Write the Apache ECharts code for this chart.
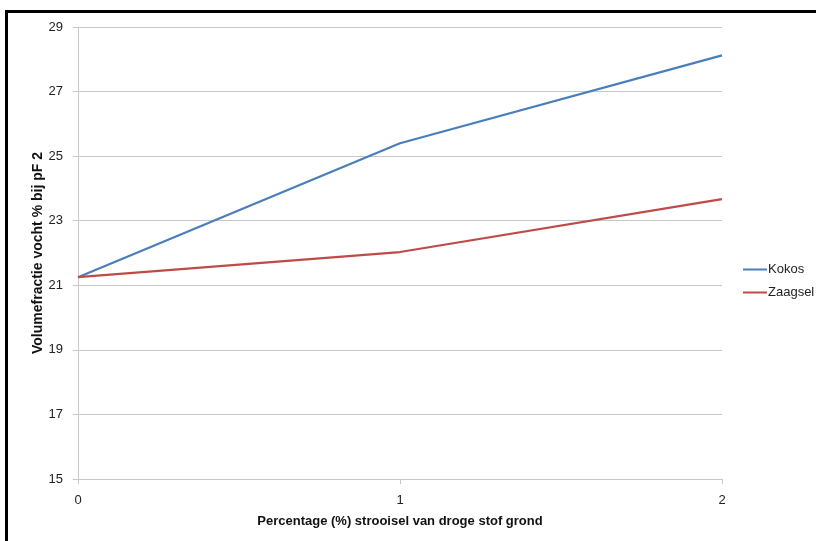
<!DOCTYPE html>
<html>
<head>
<meta charset="utf-8">
<script src="https://cdn.jsdelivr.net/npm/echarts@6/dist/echarts.min.js"></script>
<style>
  html, body { margin: 0; padding: 0; background: #fff; }
  #frame { position: absolute; left: 5px; top: 10px; width: 840px; height: 560px; border: 3px solid #000; box-sizing: border-box; }
  #chart { position: absolute; left: 0; top: 0; width: 816px; height: 541px; }
</style>
</head>
<body>
<div id="frame"></div>
<div id="chart"></div>
<script>
// Percentage of litter added (x categories)
const categories = ['0', '1', '2'];
// Volume fraction of moisture at pF 2
const kokos = [21.25, 25.4, 28.12];
const zaagsel = [21.25, 22.03, 23.67];
const yTicks = { min: 15, max: 29, interval: 2 };

const font = '"Liberation Sans", Arial, sans-serif';
const linePath = 'path://M0,4 L24,4 L24,6 L0,6 Z';
const chart = echarts.init(document.getElementById('chart'));
chart.setOption({
  animation: false,
  grid: { left: 78, right: 94, top: 27, bottom: 62 },
  legend: {
    orient: 'vertical',
    left: 738,
    top: 258,
    itemGap: 10,
    itemWidth: 24,
    itemHeight: 10,
    textStyle: { fontFamily: font, fontSize: 13, color: '#222', padding: [0, 0, 0, -4] },
    data: [
      { name: 'Kokos', icon: linePath },
      { name: 'Zaagsel', icon: linePath }
    ]
  },
  xAxis: {
    type: 'category',
    data: categories,
    boundaryGap: false,
    name: 'Percentage (%) strooisel van droge stof grond',
    nameLocation: 'middle',
    nameGap: 36,
    nameTextStyle: { fontFamily: font, fontSize: 13, fontWeight: 'bold', color: '#111' },
    axisLine: { lineStyle: { color: '#c8c8c8' } },
    axisTick: { show: true, length: 5, lineStyle: { color: '#c8c8c8' } },
    axisLabel: { fontFamily: font, fontSize: 13, color: '#222', margin: 15 },
    splitLine: { show: false }
  },
  yAxis: {
    type: 'value',
    min: yTicks.min,
    max: yTicks.max,
    interval: yTicks.interval,
    name: 'Volumefractie vocht % bij pF 2',
    nameLocation: 'middle',
    nameGap: 33,
    nameMoveOverlap: false,
    nameRotate: 90,
    nameTextStyle: { fontFamily: font, fontSize: 14, fontWeight: 'bold', color: '#111' },
    axisLine: { show: true, lineStyle: { color: '#c8c8c8' } },
    axisTick: { show: true, length: 5, lineStyle: { color: '#c8c8c8' } },
    axisLabel: { fontFamily: font, fontSize: 13, color: '#222', margin: 15 },
    splitLine: { lineStyle: { color: '#c8c8c8', width: 1 } }
  },
  series: [
    { name: 'Kokos', type: 'line', data: kokos, symbol: 'none', color: '#4a7ebb', lineStyle: { width: 2.2, color: '#4a7ebb' } },
    { name: 'Zaagsel', type: 'line', data: zaagsel, symbol: 'none', color: '#be4b48', lineStyle: { width: 2.2, color: '#be4b48' } }
  ]
});
</script>
</body>
</html>
